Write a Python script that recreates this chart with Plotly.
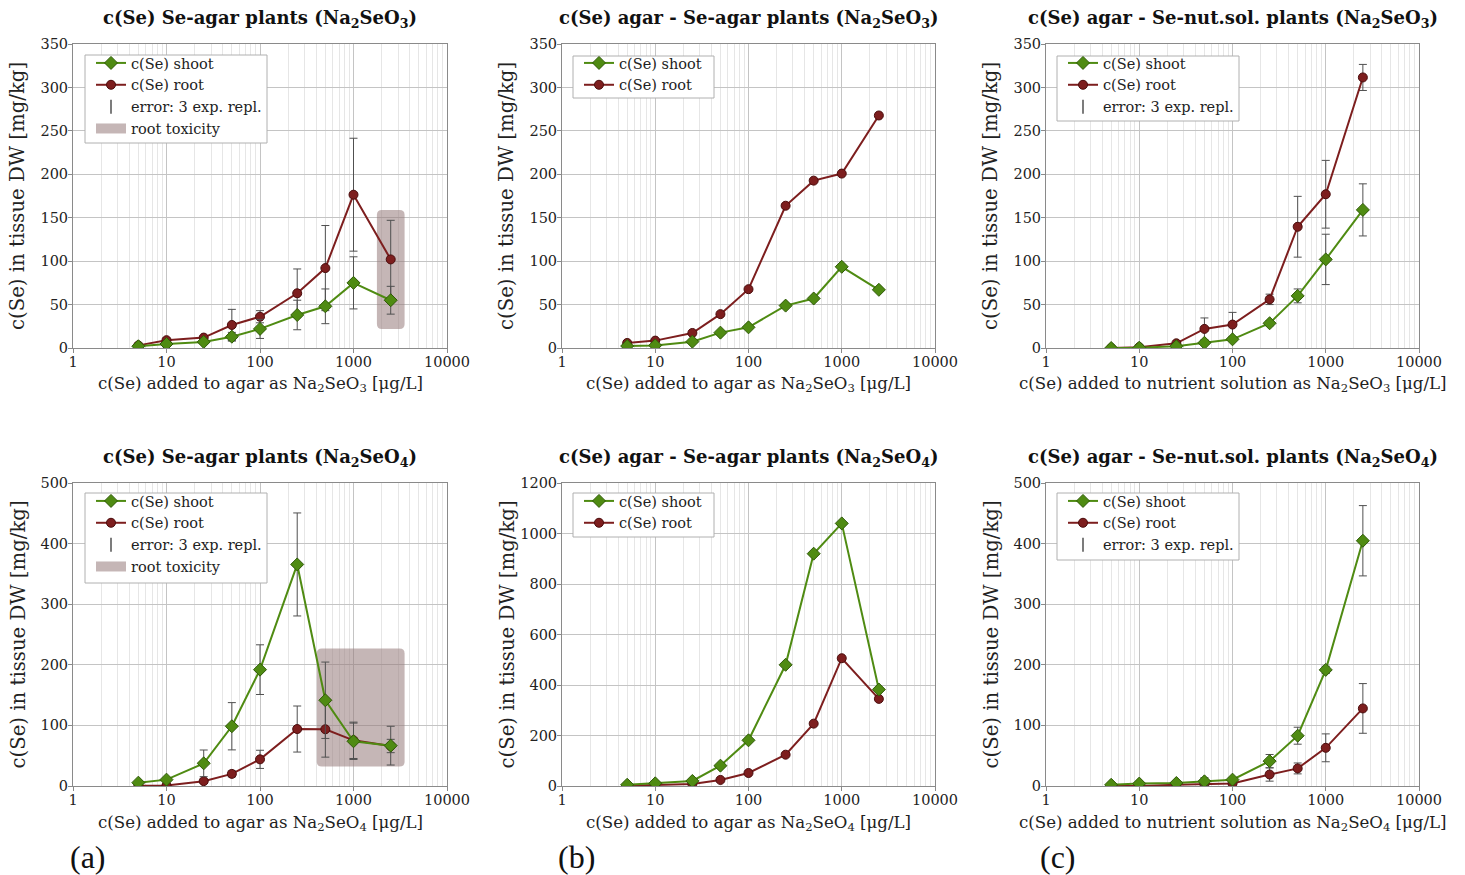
import plotly.graph_objects as go

W, H = 1465, 875

# ---------------- data ----------------
x_conc = [5, 10, 25, 50, 100, 250, 500, 1000, 2500]
x_tick_vals = [1, 10, 100, 1000, 10000]
x_tick_text = ["1", "10", "100", "1000", "10000"]

# (a) top: Se-agar plants, Na2SeO3
a1_shoot = [2, 4.6, 7, 13, 22, 38, 48, 75, 55]
a1_shoot_err = [1, 1.5, 2, 5, 11, 17, 20, 30, 16]
a1_root = [3, 9, 12, 26.5, 36, 63, 92, 176.5, 102]
a1_root_err = [1, 2, 2, 18, 7, 28, 49, 65, 45]
a1_tox_x = [1780, 3520]
a1_tox_y = [22, 159]

# (a) bottom: Se-agar plants, Na2SeO4
a2_shoot = [5.5, 10.5, 37.4, 98.6, 192, 365.6, 141.5, 73.8, 66.6]
a2_shoot_err = [2, 2, 22, 39, 41, 85, 63, 30, 32]
a2_root = [0.5, 0.8, 8, 20, 44, 94, 93.6, 75.4, 66]
a2_root_err = [1, 1, 3, 5, 15, 38, 46, 30, 11]
a2_tox_x = [405, 3520]
a2_tox_y = [32, 227]

# (b) top: agar - Se-agar plants, Na2SeO3
b1_shoot = [2.3, 3, 7.3, 17.7, 23.8, 48.8, 57, 93.5, 67]
b1_root = [5.8, 8.5, 17.3, 39, 67.7, 163.8, 192.7, 200.8, 267.7]

# (b) bottom: agar - Se-agar plants, Na2SeO4
b2_shoot = [5, 10.6, 20, 80.6, 181, 480, 920, 1040, 382]
b2_root = [1, 4, 8, 24, 51.5, 124, 247, 506, 345]

# (c) top: agar - Se-nut.sol. plants, Na2SeO3
c1_shoot = [0, 0.4, 2, 6, 10, 28.5, 60, 102, 159]
c1_shoot_err = [0.5, 0.5, 1, 2, 2, 3, 8, 29, 30]
c1_root = [0, 1, 5.4, 22, 27, 56, 139.6, 177, 311.5]
c1_root_err = [0.5, 0.5, 1, 12.6, 14, 6, 35, 39, 15]

# (c) bottom: agar - Se-nut.sol. plants, Na2SeO4
c2_shoot = [2, 4, 5, 7.7, 10.5, 41, 83, 191.6, 404.7]
c2_shoot_err = [1, 1, 2, 6, 3, 11, 14, 6, 58]
c2_root = [0, 0, 2, 3, 4, 19, 29, 63, 128]
c2_root_err = [0.5, 0.5, 1, 4, 2, 11, 9, 23, 41]

titles = [
    "c(Se) Se-agar plants (Na<sub>2</sub>SeO<sub>3</sub>)",
    "c(Se) agar - Se-agar plants (Na<sub>2</sub>SeO<sub>3</sub>)",
    "c(Se) agar - Se-nut.sol. plants (Na<sub>2</sub>SeO<sub>3</sub>)",
    "c(Se) Se-agar plants (Na<sub>2</sub>SeO<sub>4</sub>)",
    "c(Se) agar - Se-agar plants (Na<sub>2</sub>SeO<sub>4</sub>)",
    "c(Se) agar - Se-nut.sol. plants (Na<sub>2</sub>SeO<sub>4</sub>)",
]
xlabels = [
    "c(Se) added to agar as Na<sub>2</sub>SeO<sub>3</sub> [μg/L]",
    "c(Se) added to agar as Na<sub>2</sub>SeO<sub>3</sub> [μg/L]",
    "c(Se) added to nutrient solution as Na<sub>2</sub>SeO<sub>3</sub> [μg/L]",
    "c(Se) added to agar as Na<sub>2</sub>SeO<sub>4</sub> [μg/L]",
    "c(Se) added to agar as Na<sub>2</sub>SeO<sub>4</sub> [μg/L]",
    "c(Se) added to nutrient solution as Na<sub>2</sub>SeO<sub>4</sub> [μg/L]",
]
ylabel = "c(Se) in tissue DW [mg/kg]"
panel_letters = ["(a)", "(b)", "(c)"]
legend_names = ["c(Se) shoot", "c(Se) root", "error: 3 exp. repl.", "root toxicity"]

panels = [
    dict(shoot=a1_shoot, se=a1_shoot_err, root=a1_root, re=a1_root_err, ymax=350, dy=50, tox=(a1_tox_x, a1_tox_y)),
    dict(shoot=b1_shoot, se=None, root=b1_root, re=None, ymax=350, dy=50, tox=None),
    dict(shoot=c1_shoot, se=c1_shoot_err, root=c1_root, re=c1_root_err, ymax=350, dy=50, tox=None),
    dict(shoot=a2_shoot, se=a2_shoot_err, root=a2_root, re=a2_root_err, ymax=500, dy=100, tox=(a2_tox_x, a2_tox_y)),
    dict(shoot=b2_shoot, se=None, root=b2_root, re=None, ymax=1200, dy=200, tox=None),
    dict(shoot=c2_shoot, se=c2_shoot_err, root=c2_root, re=c2_root_err, ymax=500, dy=100, tox=None),
]

# ---------------- layout geometry (pixels) ----------------
col_px = [(73, 447), (562, 935), (1046, 1419)]
row_px = [(44, 348), (483, 786)]
# legend frame boxes (x0, y0, x1, y1) and legend text anchor (x, y)
legend_box_px = [(85, 55, 267, 143), (573, 56, 714, 98), (1057, 56, 1239, 121),
                 (85, 493, 267, 583), (573, 493, 714, 537), (1057, 493, 1239, 560)]
legend_px = [(91, 47), (579, 47), (1063, 47), (91, 485), (579, 485), (1063, 485)]
CORNER_PX = 5

FONT = "DejaVu Serif"
GREEN = "#4f8b12"
GREEN_D = "#2f5a08"
RED = "#7d1e1e"
RED_D = "#4a0c0c"
ERR = "#505050"
TOX_FILL = "rgba(150,122,122,0.55)"
GRID = "#c4c4c4"
GRID_MINOR = "#e6e6e6"
AXLINE = "#8a8a8a"


def fx(px):
    return px / W


def fy(py):
    return 1 - py / H


def rounded_rect_path(xa0, xa1, ya0, ya1, kx, ry):
    """Rounded rectangle in data coords; kx = multiplicative corner size on the log x axis."""
    return (
        f"M {xa0 * kx},{ya0} L {xa1 / kx},{ya0} Q {xa1},{ya0} {xa1},{ya0 + ry} "
        f"L {xa1},{ya1 - ry} Q {xa1},{ya1} {xa1 / kx},{ya1} "
        f"L {xa0 * kx},{ya1} Q {xa0},{ya1} {xa0},{ya1 - ry} "
        f"L {xa0},{ya0 + ry} Q {xa0},{ya0} {xa0 * kx},{ya0} Z"
    )


minor_vals = [m * 10 ** d for d in range(0, 4) for m in range(2, 10)]

fig = go.Figure()
layout = dict(
    width=W, height=H,
    margin=dict(l=0, r=0, t=0, b=0, pad=0, autoexpand=False),
    paper_bgcolor="white", plot_bgcolor="white",
    font=dict(family=FONT, color="#222"), showlegend=True,
)
annotations = []
shapes = []

for i, p in enumerate(panels):
    r, c = divmod(i, 3)
    n = i + 1
    xa = "x" if n == 1 else f"x{n}"
    ya = "y" if n == 1 else f"y{n}"
    lg = "legend" if n == 1 else f"legend{n}"
    x0, x1 = col_px[c]
    y0, y1 = row_px[r]

    layout[f"xaxis{'' if n == 1 else n}"] = dict(
        domain=[fx(x0), fx(x1)], anchor=ya, type="log", range=[0, 4],
        tickvals=x_tick_vals, ticktext=x_tick_text, automargin=False,
        showgrid=True, gridcolor=GRID, gridwidth=1,
        minor=dict(tickvals=minor_vals, showgrid=True, gridcolor=GRID_MINOR, ticks=""),
        showline=True, linecolor=AXLINE, linewidth=1, mirror=True,
        ticks="outside", ticklen=4, tickcolor=AXLINE, ticklabelstandoff=-3,
        tickfont=dict(size=14.5, family=FONT, color="#222"), zeroline=False,
    )
    layout[f"yaxis{'' if n == 1 else n}"] = dict(
        domain=[fy(y1), fy(y0)], anchor=xa, range=[0, p["ymax"]], dtick=p["dy"],
        automargin=False,
        showgrid=True, gridcolor=GRID, gridwidth=1,
        showline=True, linecolor=AXLINE, linewidth=1, mirror=True,
        ticks="outside", ticklen=4, tickcolor=AXLINE, ticklabelstandoff=-3,
        tickfont=dict(size=14.5, family=FONT, color="#222"), zeroline=False,
    )

    has_err = p["se"] is not None
    # root first (drawn below), shoot on top
    fig.add_trace(go.Scatter(
        x=x_conc, y=p["root"], mode="lines+markers", name=legend_names[1],
        line=dict(color=RED, width=2),
        marker=dict(symbol="circle", size=9, color=RED, line=dict(color=RED_D, width=1)),
        error_y=dict(type="data", array=p["re"], visible=has_err, color=ERR, thickness=1, width=4),
        xaxis=xa, yaxis=ya, legend=lg, legendrank=2,
    ))
    fig.add_trace(go.Scatter(
        x=x_conc, y=p["shoot"], mode="lines+markers", name=legend_names[0],
        line=dict(color=GREEN, width=2),
        marker=dict(symbol="diamond", size=10, color=GREEN, line=dict(color=GREEN_D, width=1)),
        error_y=dict(type="data", array=p["se"], visible=has_err, color=ERR, thickness=1, width=4),
        xaxis=xa, yaxis=ya, legend=lg, legendrank=1,
    ))
    if has_err:
        fig.add_trace(go.Scatter(
            x=[None], y=[None], mode="markers", name=legend_names[2],
            marker=dict(symbol="line-ns-open", size=10, color=ERR, line=dict(color=ERR, width=1.5)),
            xaxis=xa, yaxis=ya, legend=lg, legendrank=3,
        ))
    if p["tox"] is not None:
        tx, ty = p["tox"]
        fig.add_trace(go.Scatter(
            x=[None], y=[None], mode="lines", line=dict(color=TOX_FILL, width=14),
            name=legend_names[3], xaxis=xa, yaxis=ya, legend=lg, legendrank=4,
        ))
        kx = 10 ** (CORNER_PX * 4 / (x1 - x0))
        ry = CORNER_PX * p["ymax"] / (y1 - y0)
        shapes.append(dict(
            type="path", xref=xa, yref=ya,
            path=rounded_rect_path(tx[0], tx[1], ty[0], ty[1], kx, ry),
            fillcolor=TOX_FILL, line=dict(width=0), layer="between",
        ))

    # legend frame (white box with grey border, drawn above the traces)
    bx0, by0, bx1, by1 = legend_box_px[i]
    shapes.append(dict(
        type="rect", xref="paper", yref="paper",
        x0=fx(bx0), x1=fx(bx1), y0=fy(by1), y1=fy(by0),
        fillcolor="white", line=dict(color="#b0b0b0", width=1), layer="above",
    ))
    lx, ly = legend_px[i]
    layout[lg] = dict(
        x=fx(lx), y=fy(ly), xanchor="left", yanchor="top", xref="paper", yref="paper",
        bgcolor="rgba(0,0,0,0)", borderwidth=0,
        font=dict(size=14.5, family=FONT, color="#222"),
        tracegroupgap=0, itemwidth=30,
    )

    cx = fx((x0 + x1) / 2)
    annotations.append(dict(
        text=f"<b>{titles[i]}</b>", x=cx, y=fy(y0 - 25), xref="paper", yref="paper",
        xanchor="center", yanchor="middle", showarrow=False,
        font=dict(size=18, family=FONT, color="#111"),
    ))
    annotations.append(dict(
        text=xlabels[i], x=cx, y=fy(y1 + 37), xref="paper", yref="paper",
        xanchor="center", yanchor="middle", showarrow=False,
        font=dict(size=16.6, family=FONT, color="#222"),
    ))
    annotations.append(dict(
        text=ylabel, x=fx(x0 - 55), y=fy((y0 + y1) / 2), xref="paper", yref="paper",
        xanchor="center", yanchor="middle", showarrow=False, textangle=-90,
        font=dict(size=19.7, family=FONT, color="#222"),
    ))

letter_x = [88, 576, 1058]
for c in range(3):
    annotations.append(dict(
        text=panel_letters[c], x=fx(letter_x[c]), y=fy(857), xref="paper", yref="paper",
        xanchor="center", yanchor="middle", showarrow=False,
        font=dict(size=32, family="Liberation Serif", color="#111"),
    ))

layout["annotations"] = annotations
layout["shapes"] = shapes
fig.update_layout(**layout)
fig.write_html(
    "out.html",
    config={"displayModeBar": False},
    post_script=(
        "document.body.style.margin='0';document.body.style.padding='0';"
        "document.documentElement.style.overflow='hidden';document.body.style.overflow='hidden';"
    ),
)
